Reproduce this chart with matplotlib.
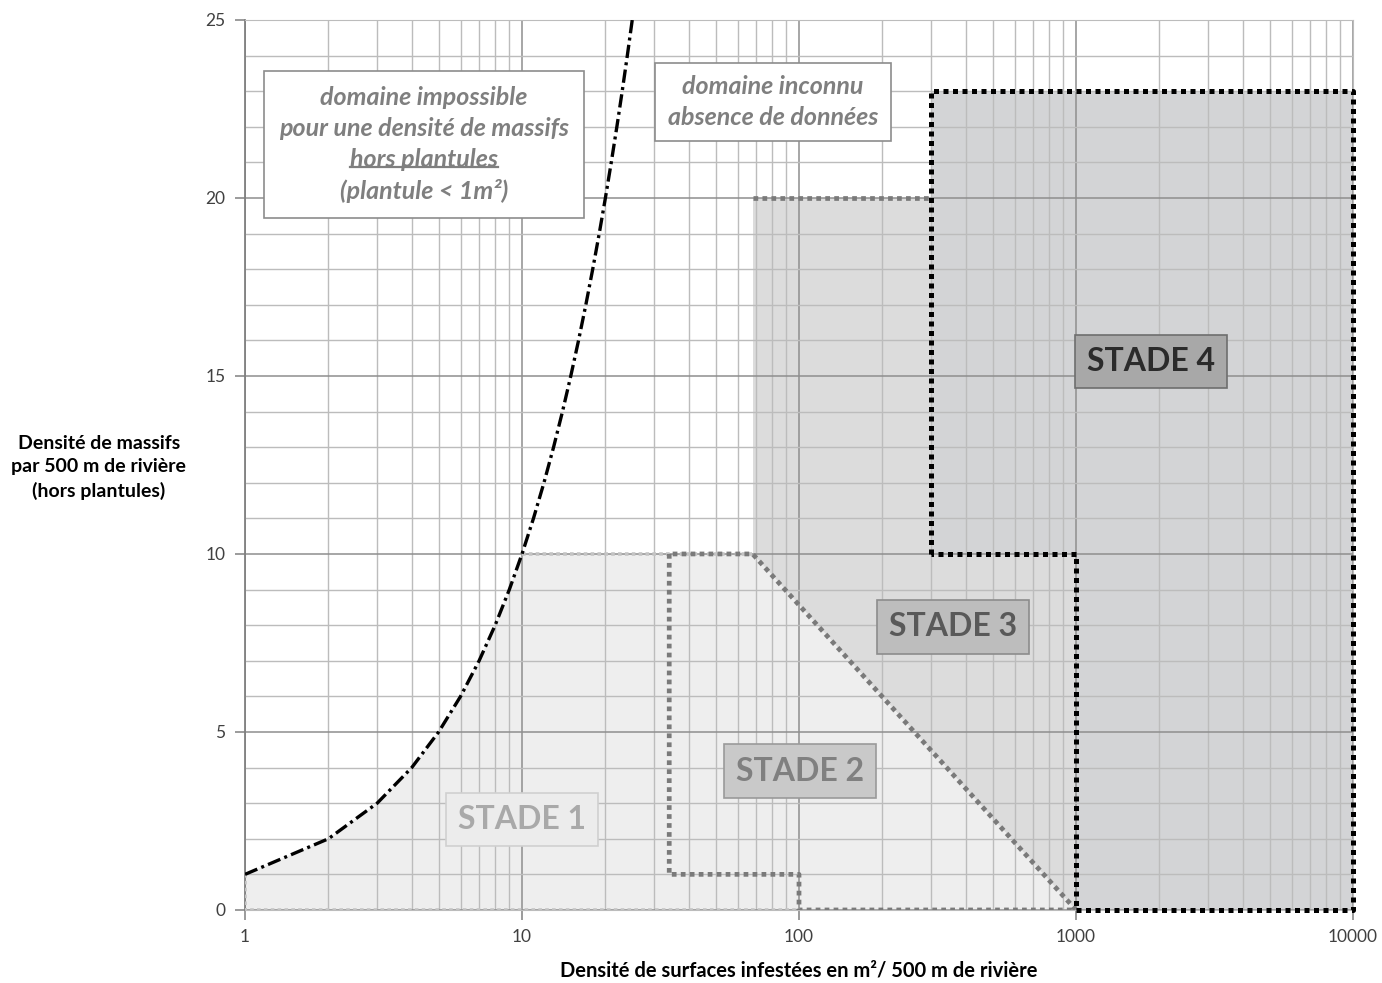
import matplotlib
matplotlib.use('Agg')
import matplotlib.pyplot as plt
from matplotlib.lines import Line2D
from matplotlib.ticker import FixedLocator, NullFormatter

plt.rcParams['font.family'] = ['Lato', 'DejaVu Sans']

# limite : 1 massif par m2 au plus (courbe y = x, lue point par point)
curve_x = [1, 2, 3, 4, 5, 6, 7, 8, 9, 10, 11, 12, 13, 14, 15, 16, 17, 18, 19, 20, 21, 22, 23, 24, 25]
curve_y = [1, 2, 3, 4, 5, 6, 7, 8, 9, 10, 11, 12, 13, 14, 15, 16, 17, 18, 19, 20, 21, 22, 23, 24, 25]

# contours des stades (surface en m2, densite de massifs)
stage1_x = [1, 1, 100]
stage1_y = [1, 0, 0]
stage1_top_x = [10, 68]
stage1_top_y = [10, 10]

stage2_x = [34, 34, 100, 100, 1000, 68, 34]
stage2_y = [10, 1, 1, 0, 0, 10, 10]

stage3_x = [68, 68, 300, 300, 1000, 1000]
stage3_y = [10, 20, 20, 10, 10, 0]
stage3_top_x = [68, 300]
stage3_top_y = [20, 20]

stage4_x = [300, 300, 10000, 10000, 1000, 1000, 300]
stage4_y = [10, 23, 23, 0, 0, 10, 10]

# zone claire stades 1 et 2 : sous la courbe jusqu'a 10, puis le palier et la diagonale
low_x = curve_x[:10] + [68, 1000, 1]
low_y = curve_y[:10] + [10, 0, 0]

x_ticks = [1, 10, 100, 1000, 10000]
x_labels = ['1', '10', '100', '1000', '10000']
y_ticks = [0, 5, 10, 15, 20, 25]

# etiquettes : texte, (x, y), fond, bord, couleur du texte
stages = [
    ('STADE 1', (10, 2.55), '#ececec', '#d0d0d0', '#a9a9a9'),
    ('STADE 2', (101, 3.9), '#c9c9c9', '#9a9a9a', '#808080'),
    ('STADE 3', (360, 7.95), '#bdbdbd', '#8c8c8c', '#595959'),
    ('STADE 4', (1870, 15.4), '#a8a8a8', '#6e6e6e', '#2b2b2b'),
]

fig, ax = plt.subplots(figsize=(13.82, 9.83), dpi=100)
fig.subplots_adjust(left=0.1773, right=0.979, bottom=0.0743, top=0.9797)

ax.set_xscale('log')
ax.set_xlim(1, 10000)
ax.set_ylim(0, 25)

# remplissages
ax.fill(low_x, low_y, color='#eeeeee', zorder=0.2, lw=0)
ax.fill(stage3_x, stage3_y, color='#dcdcdc', zorder=0.25, lw=0)
ax.fill(stage4_x, stage4_y, color='#d3d4d6', zorder=0.3, lw=0)

# grille
ax.set_axisbelow(True)
ax.xaxis.set_major_locator(FixedLocator(x_ticks))
ax.xaxis.set_minor_locator(FixedLocator([m * d for d in [1, 10, 100, 1000] for m in range(2, 10)]))
ax.xaxis.set_minor_formatter(NullFormatter())
ax.set_xticklabels(x_labels)
ax.yaxis.set_major_locator(FixedLocator(y_ticks))
ax.yaxis.set_minor_locator(FixedLocator(list(range(26))))
ax.grid(which='major', color='#8e8e8e', lw=1.1)
ax.grid(which='minor', color='#bcbcbc', lw=1.0)
ax.tick_params(which='minor', length=0)
ax.tick_params(which='major', length=7, width=1.1, color='#808080', labelsize=12.5,
               labelcolor='#404040', pad=7)

for side in ['top', 'right']:
    ax.spines[side].set_color('#bcbcbc')
ax.spines['left'].set_color('#808080')
ax.spines['left'].set_linewidth(1.3)
ax.spines['bottom'].set_color('#bcbcbc')

# contours
dot = (0, (1, 0.9))
ax.plot(stage1_x, stage1_y, color='#c4c4c4', lw=2.6, ls=dot, zorder=3)
ax.plot(stage1_top_x, stage1_top_y, color='#c4c4c4', lw=2.6, ls=dot, zorder=3)
ax.plot(stage2_x, stage2_y, color='#7a7a7a', lw=3.4, ls=dot, zorder=3.1)
ax.plot(stage3_top_x, stage3_top_y, color='#7a7a7a', lw=3.4, ls=dot, zorder=3.1)
ax.plot(stage4_x, stage4_y, color='black', lw=3.6, ls=dot, zorder=3.2, clip_on=False)

# courbe limite
ax.plot(curve_x, curve_y, color='black', lw=2.4, ls=(0, (4, 1.3, 0.9, 1.3)), zorder=3.3)

# etiquettes des stades
for txt, (sx, sy), bg, ec, fc in stages:
    ax.text(sx, sy, txt, ha='center', va='center', fontsize=23, fontweight='bold', color=fc,
            zorder=5, bbox=dict(boxstyle='square,pad=0.38', fc=bg, ec=ec, lw=1.2))

# encadres
note_font = dict(fontsize=18, fontweight='bold', style='italic', color='#7f7f7f')
t_imp = ax.text(4.43, 21.5,
                'domaine impossible\npour une densité de massifs\nhors plantules\n(plantule < 1m²)',
                ha='center', va='center', linespacing=1.4, zorder=5,
                bbox=dict(boxstyle='square,pad=0.6', fc='white', ec='#8c8c8c', lw=1.2),
                **note_font)
ax.text(80.5, 22.7, 'domaine inconnu\nabsence de données', ha='center', va='center',
        linespacing=1.4, zorder=5,
        bbox=dict(boxstyle='square,pad=0.5', fc='white', ec='#8c8c8c', lw=1.2), **note_font)

ax.set_xlabel('Densité de surfaces infestées en m²/ 500 m de rivière', fontsize=14.5,
              fontweight='bold', labelpad=11)
ax.set_ylabel('Densité de massifs\npar 500 m de rivière\n(hors plantules)', fontsize=14,
              fontweight='bold', rotation=0, ha='center', va='center', linespacing=1.45)
ax.yaxis.set_label_coords(-0.132, 0.497)

# soulignement de "hors plantules"
fig.canvas.draw()
r = fig.canvas.get_renderer()
bb = t_imp.get_window_extent(r)
tmp = ax.text(1, 1, 'hors plantules', **note_font)
w = tmp.get_window_extent(r).width
tmp.remove()
line_h = bb.height / 4
cx = (bb.x0 + bb.x1) / 2
y_ul = bb.y1 - 3 * line_h + 0.22 * line_h
W, H = fig.bbox.width, fig.bbox.height
fig.add_artist(Line2D([(cx - w / 2) / W, (cx + w / 2) / W], [y_ul / H, y_ul / H],
                      color='#7f7f7f', lw=1.6, zorder=6))

fig.savefig('out.png', dpi=100)
